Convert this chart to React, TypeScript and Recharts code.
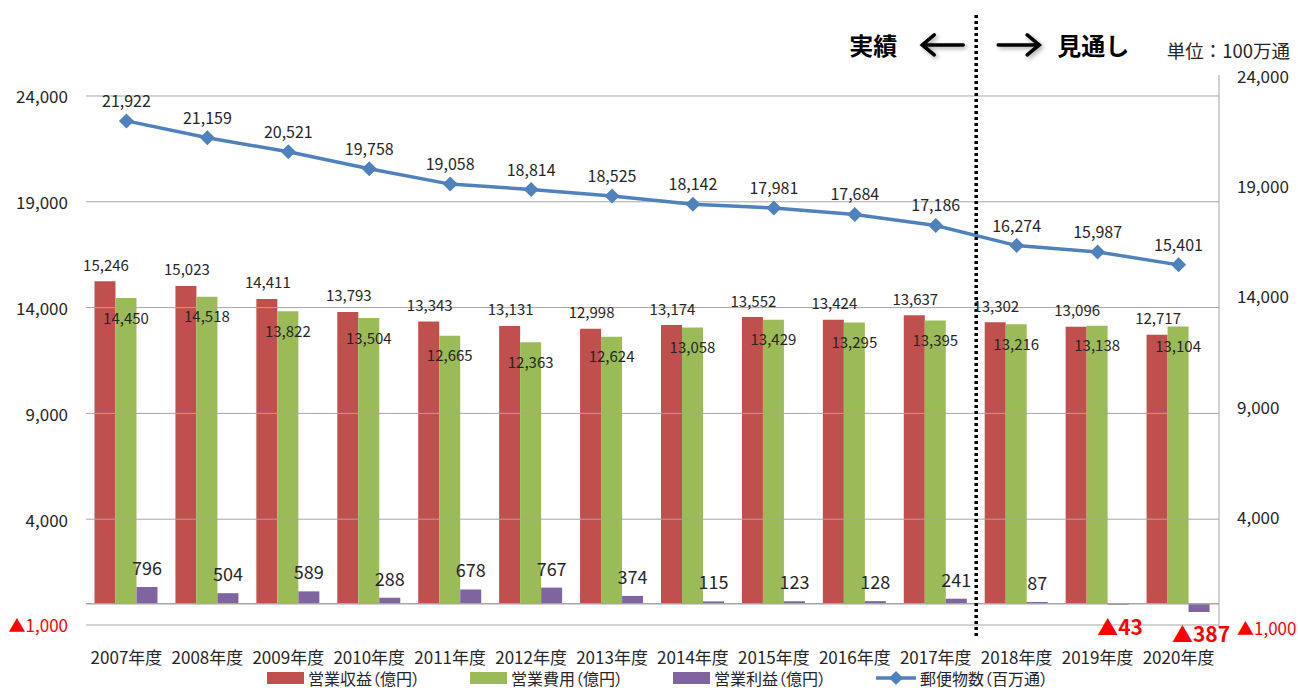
import React from "react";
import {
  ComposedChart,
  Bar,
  Line,
  XAxis,
  YAxis,
  ReferenceLine,
  LabelList,
} from "recharts";

const years = [
  "2007年度", "2008年度", "2009年度", "2010年度", "2011年度", "2012年度", "2013年度",
  "2014年度", "2015年度", "2016年度", "2017年度", "2018年度", "2019年度", "2020年度",
];
const revenue = [15246, 15023, 14411, 13793, 13343, 13131, 12998, 13174, 13552, 13424, 13637, 13302, 13096, 12717];
const expense = [14450, 14518, 13822, 13504, 12665, 12363, 12624, 13058, 13429, 13295, 13395, 13216, 13138, 13104];
const profit = [796, 504, 589, 288, 678, 767, 374, 115, 123, 128, 241, 87, -43, -387];
const mail = [21922, 21159, 20521, 19758, 19058, 18814, 18525, 18142, 17981, 17684, 17186, 16274, 15987, 15401];

const axisTicks = [-1000, 4000, 9000, 14000, 19000, 24000];
const lastActualYear = "2017年度";

const FONT = "'Noto Sans CJK JP', 'Noto Sans', sans-serif";
const RED = "#C0504D";
const GREEN = "#9BBB59";
const PURPLE = "#8064A2";
const BLUE = "#4F81BD";
const GRID = "#A6A6A6";
const TEXT = "#262626";

const legendItems = [
  { name: "営業収益（億円）", color: RED, kind: "bar" },
  { name: "営業費用（億円）", color: GREEN, kind: "bar" },
  { name: "営業利益（億円）", color: PURPLE, kind: "bar" },
  { name: "郵便物数（百万通）", color: BLUE, kind: "line" },
];

const data = years.map((year, i) => ({
  year,
  revenue: revenue[i],
  expense: expense[i],
  profit: profit[i],
  mail: mail[i],
}));

function fmt(v: number): string {
  return v < 0 ? "▲" + Math.abs(v).toLocaleString("en-US") : v.toLocaleString("en-US");
}

function box(props: any) {
  const vb = props.viewBox ?? props;
  const x = Number(vb.x ?? 0);
  const y = Number(vb.y ?? 0);
  const w = Number(vb.width ?? 0);
  const h = Number(vb.height ?? 0);
  return { cx: x + w / 2, top: Math.min(y, y + h), bottom: Math.max(y, y + h) };
}

function revenueLabel(props: any) {
  const { cx, top } = box(props);
  return (
    <text x={cx + 1} y={top - 17} textAnchor="middle" dominantBaseline="central"
      fontSize={15} fill={TEXT} fontFamily={FONT}>
      {fmt(Number(props.value))}
    </text>
  );
}

function expenseLabel(props: any) {
  const { cx, top } = box(props);
  return (
    <text x={cx} y={top + 19} textAnchor="middle" dominantBaseline="central"
      fontSize={15} fill={TEXT} fontFamily={FONT}>
      {fmt(Number(props.value))}
    </text>
  );
}

function profitLabel(props: any) {
  const { cx, top, bottom } = box(props);
  const v = Number(props.value);
  if (v < 0) {
    return (
      <text x={cx + 2} y={bottom + 21} textAnchor="middle" dominantBaseline="central"
        fontSize={21} fontWeight="bold" fill="#FF0000" fontFamily={FONT}>
        {fmt(v)}
      </text>
    );
  }
  return (
    <text x={cx} y={top - 20} textAnchor="middle" dominantBaseline="central"
      fontSize={18} fill={TEXT} fontFamily={FONT}>
      {fmt(v)}
    </text>
  );
}

function mailLabel(props: any) {
  const vb = props.viewBox ?? props;
  return (
    <text x={vb.x} y={vb.y - 21} textAnchor="middle" dominantBaseline="central"
      fontSize={16} fill={TEXT} fontFamily={FONT}>
      {fmt(Number(props.value))}
    </text>
  );
}

function Diamond(props: any) {
  const { cx, cy } = props;
  if (cx == null || cy == null) return null;
  const r = 7.5;
  return (
    <polygon
      points={`${cx},${cy - r} ${cx + r},${cy} ${cx},${cy + r} ${cx - r},${cy}`}
      fill={BLUE}
    />
  );
}

function LeftTick(props: any) {
  const { x, y, payload } = props;
  const v = Number(payload.value);
  return (
    <text x={x} y={y} textAnchor="end" dominantBaseline="central" fontSize={17}
      fill={v < 0 ? "#FF0000" : TEXT} fontFamily={FONT}>
      {fmt(v)}
    </text>
  );
}

function RightTick(props: any) {
  const { x, y, payload } = props;
  const v = Number(payload.value);
  return (
    <text x={x} y={y} textAnchor="start" dominantBaseline="central" fontSize={17}
      fill={v < 0 ? "#FF0000" : TEXT} fontFamily={FONT}>
      {fmt(v)}
    </text>
  );
}

function YearTick(props: any) {
  const { x, y, payload } = props;
  return (
    <text x={x} y={y + 29} textAnchor="middle" dominantBaseline="central" fontSize={17}
      fill={TEXT} fontFamily={FONT}>
      {payload.value}
    </text>
  );
}

function dividerHeader(props: any) {
  const vb = props.viewBox ?? {};
  const x = Number(vb.x ?? 0);
  const y = Number(vb.y ?? 0) + 30;
  const shadow = { filter: "drop-shadow(2px 2px 2px rgba(0,0,0,0.35))" };
  return (
    <g>
      <text x={x - 79} y={y} textAnchor="end" dominantBaseline="central" fontSize={24}
        fontWeight="bold" fill="#000" fontFamily={FONT}>
        実績
      </text>
      <g style={shadow} stroke="#000" strokeWidth={3.5} fill="none" strokeLinecap="round">
        <path d={`M ${x - 13} ${y} L ${x - 53} ${y} M ${x - 42} ${y - 10} L ${x - 54} ${y} L ${x - 42} ${y + 10}`} />
        <path d={`M ${x + 22} ${y} L ${x + 62} ${y} M ${x + 51} ${y - 10} L ${x + 63} ${y} L ${x + 51} ${y + 10}`} />
      </g>
      <text x={x + 81} y={y} textAnchor="start" dominantBaseline="central" fontSize={24}
        fontWeight="bold" fill="#000" fontFamily={FONT}>
        見通し
      </text>
    </g>
  );
}

function unitLabel(props: any) {
  const vb = props.viewBox ?? {};
  return (
    <text x={Number(vb.x) + 71} y={Number(vb.y) - 25} textAnchor="end" dominantBaseline="central"
      fontSize={18.5} fill={TEXT} fontFamily={FONT}>
      単位：100万通
    </text>
  );
}

export default function App() {
  return (
    <div style={{ position: "absolute", left: 0, top: 0, width: 1298, height: 688, background: "#fff", fontFamily: FONT }}>
      <ComposedChart
        width={1298}
        height={688}
        data={data}
        margin={{ top: 75, right: 0, bottom: 31, left: 0 }}
        barCategoryGap="10.5%"
        barGap={0}
      >
        <XAxis dataKey="year" axisLine={false} tickLine={false} tickSize={0} tickMargin={0}
          height={30} interval={0} tick={<YearTick />} />
        <YAxis yAxisId="left" orientation="left" width={86} domain={[-1095, 24992]}
          allowDataOverflow ticks={axisTicks} axisLine={false} tickLine={false}
          tickSize={0} tickMargin={18} tick={<LeftTick />} />
        <YAxis yAxisId="right" orientation="right" width={79} domain={[-1000, 24000]}
          allowDataOverflow ticks={axisTicks} axisLine={{ stroke: GRID }} tickLine={false}
          tickSize={0} tickMargin={18} tick={<RightTick />} label={unitLabel} />
        {axisTicks.map((t) => (
          <ReferenceLine key={`g-${t}`} yAxisId="left" y={t} stroke={GRID} strokeWidth={1} />
        ))}
        <ReferenceLine yAxisId="left" y={0} stroke={GRID} strokeWidth={1.5} />
        <Bar yAxisId="left" dataKey="revenue" name="営業収益（億円）" fill={RED} isAnimationActive={false}>
          <LabelList dataKey="revenue" content={revenueLabel} />
        </Bar>
        <Bar yAxisId="left" dataKey="expense" name="営業費用（億円）" fill={GREEN} isAnimationActive={false}>
          <LabelList dataKey="expense" content={expenseLabel} />
        </Bar>
        <Bar yAxisId="left" dataKey="profit" name="営業利益（億円）" fill={PURPLE} isAnimationActive={false}>
          <LabelList dataKey="profit" content={profitLabel} />
        </Bar>
        <Line yAxisId="right" dataKey="mail" name="郵便物数（百万通）" stroke={BLUE} strokeWidth={3.5}
          dot={(p: any) => <Diamond key={`d-${p.index}`} {...p} />} activeDot={false}
          isAnimationActive={false}>
          <LabelList dataKey="mail" content={mailLabel} />
        </Line>
        <ReferenceLine
          yAxisId="left"
          segment={[{ x: lastActualYear, y: 27830 }, { x: lastActualYear, y: -1570 }]}
          position="end"
          ifOverflow="visible"
          stroke="#000"
          strokeWidth={3.5}
          strokeDasharray="3 3"
          label={dividerHeader}
        />
      </ComposedChart>
      <div style={{ position: "absolute", left: 267, top: 668, height: 20, display: "flex",
        alignItems: "center", gap: 50, fontSize: 16, color: TEXT, fontFeatureSettings: '"palt"' }}>
        {legendItems.map((it) => (
          <div key={it.name} style={{ display: "flex", alignItems: "center", gap: 4 }}>
            {it.kind === "bar" ? (
              <div style={{ width: 37, height: 12, background: it.color }} />
            ) : (
              <svg width={40} height={14}>
                <line x1={0} y1={7} x2={40} y2={7} stroke={it.color} strokeWidth={3.5} />
                <polygon points="20,0 27,7 20,14 13,7" fill={it.color} />
              </svg>
            )}
            <span style={{ lineHeight: "20px", whiteSpace: "nowrap" }}>{it.name}</span>
          </div>
        ))}
      </div>
    </div>
  );
}
